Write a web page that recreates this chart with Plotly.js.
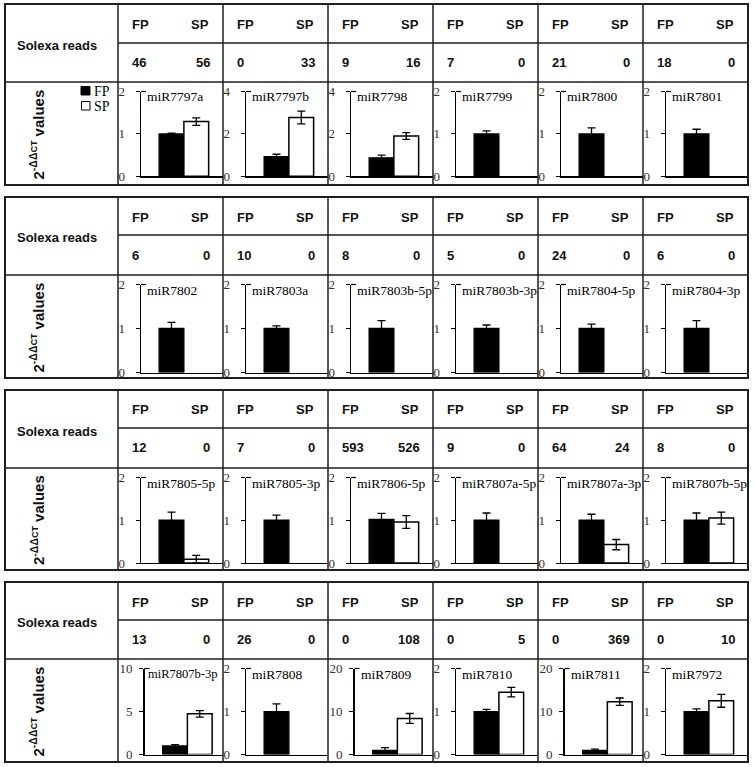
<!DOCTYPE html>
<html><head><meta charset="utf-8">
<script src="https://cdn.plot.ly/plotly-3.0.1.min.js"></script>
<style>html,body{margin:0;padding:0;background:#fff}#chart{width:754px;height:767px}</style>
</head><body><div id="chart"></div>
<script>
// ---------------- data ----------------
const groups = ["FP", "SP"];
const mirNames = [
  "miR7797a", "miR7797b", "miR7798", "miR7799", "miR7800", "miR7801",
  "miR7802", "miR7803a", "miR7803b-5p", "miR7803b-3p", "miR7804-5p", "miR7804-3p",
  "miR7805-5p", "miR7805-3p", "miR7806-5p", "miR7807a-5p", "miR7807a-3p", "miR7807b-5p",
  "miR7807b-3p", "miR7808", "miR7809", "miR7810", "miR7811", "miR7972"
];
const readsFP = [46, 0, 9, 7, 21, 18, 6, 10, 8, 5, 24, 6, 12, 7, 593, 9, 64, 8, 13, 26, 0, 0, 0, 0];
const readsSP = [56, 33, 16, 0, 0, 0, 0, 0, 0, 0, 0, 0, 0, 0, 526, 0, 24, 0, 0, 0, 108, 5, 369, 10];
const qpcrFP = [1.0, 0.93, 0.87, 1.0, 1.0, 1.0,
                1.0, 1.0, 1.0, 1.0, 1.0, 1.0,
                1.0, 1.0, 1.02, 1.0, 1.0, 1.0,
                1.0, 1.0, 1.0, 1.0, 1.0, 1.0];
const qpcrFPErr = [0.02, 0.11, 0.13, 0.07, 0.14, 0.11,
                   0.14, 0.06, 0.18, 0.08, 0.10, 0.18,
                   0.19, 0.12, 0.14, 0.17, 0.14, 0.17,
                   0.15, 0.18, 0.6, 0.05, 0.27, 0.06];
const qpcrSP = [1.29, 2.77, 1.9, null, null, null,
                null, null, null, null, null, null,
                0.09, null, 0.96, null, 0.43, 1.05,
                4.73, null, 8.4, 1.45, 12.3, 1.25];
const qpcrSPErr = [0.09, 0.3, 0.16, null, null, null,
                   null, null, null, null, null, null,
                   0.09, null, 0.15, null, 0.12, 0.14,
                   0.38, null, 1.15, 0.11, 0.85, 0.15];
const yMax = [2, 4, 4, 2, 2, 2, 2, 2, 2, 2, 2, 2, 2, 2, 2, 2, 2, 2, 10, 2, 20, 2, 20, 2];

// ---------------- geometry ----------------
const W = 754, H = 767;
const px = x => x / W;
const py = y => 1 - y / H;
const blockTop = [4, 197, 390, 582];
const blockDiv1 = [43, 235, 428, 620];
const blockDiv2 = [82, 275, 468, 659];
const blockBottom = [185, 378, 570, 762];
const zeroLine = [176.3, 372.5, 563, 754.6];
const colX = [5, 118, 223, 328, 433, 538, 643, 748];
const CELL = 105, UNIT = 24.75;

const SANS = "Liberation Sans, Arial, sans-serif";
const SERIF = "Liberation Serif, Times New Roman, serif";
const LINE = "#1e1e1e";

const traces = [];
const shapes = [];
const annotations = [];
const layout = {
  width: W, height: H,
  margin: {l: 0, r: 0, t: 0, b: 0},
  paper_bgcolor: "#fff", plot_bgcolor: "rgba(0,0,0,0)",
  showlegend: false,
  barmode: "overlay",
  font: {family: SERIF, color: "#000"},
};

function ann(x, y, text, opts) {
  annotations.push(Object.assign({
    xref: "paper", yref: "paper", x: px(x), y: py(y), text: text,
    showarrow: false, xanchor: "left", yanchor: "middle",
    font: {family: SANS, size: 13, color: "#111", weight: 700}
  }, opts || {}));
}
function hline(x0, x1, y, w) {
  shapes.push({type: "line", xref: "paper", yref: "paper", x0: px(x0), x1: px(x1), y0: py(y), y1: py(y),
    line: {color: LINE, width: w || 1.5}});
}
function vline(x, y0, y1, w) {
  shapes.push({type: "line", xref: "paper", yref: "paper", x0: px(x), x1: px(x), y0: py(y0), y1: py(y1),
    line: {color: LINE, width: w || 1.5}});
}

for (let b = 0; b < 4; b++) {
  // table grid
  shapes.push({type: "rect", xref: "paper", yref: "paper",
    x0: px(colX[0]), x1: px(colX[7]), y0: py(blockBottom[b]), y1: py(blockTop[b]),
    line: {color: LINE, width: 2}});
  hline(colX[1], colX[7], blockDiv1[b], 1.5);
  hline(colX[0], colX[7], blockDiv2[b], 1.5);
  for (let c = 1; c <= 6; c++) vline(colX[c], blockTop[b], blockBottom[b], 1.5);

  ann(57, (blockTop[b] + blockDiv2[b]) / 2 + 2, "Solexa reads", {xanchor: "center"});
  ann(37, (blockDiv2[b] + blockBottom[b]) / 2 + 1,
      "2<sup>-ΔΔ<span style='font-size:9px'>CT</span></sup> values",
      {xanchor: "center", textangle: -90, font: {family: SANS, size: 15, color: "#111", weight: 700}});
}

// legend (block 1)
shapes.push({type: "rect", xref: "paper", yref: "paper", x0: px(81), x1: px(90), y0: py(95), y1: py(86.5),
  fillcolor: "#000", line: {color: "#000", width: 1}});
shapes.push({type: "rect", xref: "paper", yref: "paper", x0: px(81.5), x1: px(90), y0: py(110), y1: py(101.5),
  fillcolor: "#fff", line: {color: "#000", width: 1}});
ann(92, 91, groups[0], {font: {family: SERIF, size: 14, color: "#000"}});
ann(92, 106, groups[1], {font: {family: SERIF, size: 14, color: "#000"}});

for (let i = 0; i < mirNames.length; i++) {
  const b = Math.floor(i / 6), c = i % 6, n = i + 1;
  const cellL = colX[c + 1];
  const two = yMax[i] >= 10;
  const off = two ? 26.5 : 23;
  const axX = cellL + off;
  const topY = blockDiv2[b] + 9.5;
  const xa = "x" + (n === 1 ? "" : n), ya = "y" + (n === 1 ? "" : n);

  layout["xaxis" + (n === 1 ? "" : n)] = {
    domain: [px(axX), px(cellL + CELL)], anchor: ya,
    type: "category", categoryorder: "array", categoryarray: groups,
    range: [-30.5 / UNIT, (CELL - off - 30.5) / UNIT],
    showline: true, linecolor: "#000", linewidth: 1.3,
    showticklabels: false, ticks: "", showgrid: false, zeroline: false, fixedrange: true
  };
  const tv = [0, yMax[i] / 2, yMax[i]];
  layout["yaxis" + (n === 1 ? "" : n)] = {
    domain: [py(zeroLine[b]), py(topY)], anchor: xa,
    range: [0, yMax[i]], tickvals: tv, ticktext: tv.map(String),
    ticks: "outside", ticklen: 4, tickwidth: 1, tickcolor: "#000",
    ticklabelstandoff: two ? 4 : 8,
    tickfont: {family: SERIF, size: 13, color: "#3b2f1c"},
    showline: true, linecolor: "#000", linewidth: 1.3,
    showgrid: false, zeroline: false, fixedrange: true
  };

  // top bracket of y axis
  shapes.push({type: "line", xref: "paper", yref: "paper", x0: px(axX), x1: px(axX + 5), y0: py(topY), y1: py(topY),
    line: {color: "#000", width: 1.2}});

  traces.push({
    type: "bar", x: [groups[0]], y: [qpcrFP[i]], width: [1], xaxis: xa, yaxis: ya, name: groups[0],
    marker: {color: "#000", line: {color: "#000", width: 1.3}},
    error_y: {type: "data", array: [qpcrFPErr[i]], visible: true, color: "#000", thickness: 1.3, width: 4}
  });
  if (qpcrSP[i] !== null) {
    traces.push({
      type: "bar", x: [groups[1]], y: [qpcrSP[i]], width: [1], xaxis: xa, yaxis: ya, name: groups[1],
      marker: {color: "#fff", line: {color: "#000", width: 1.5}},
      error_y: {type: "data", array: [qpcrSPErr[i]], visible: true, color: "#000", thickness: 1.3, width: 4}
    });
  }

  // header texts
  const yHead = (blockTop[b] + blockDiv1[b]) / 2 + 1;
  const yNum = (blockDiv1[b] + blockDiv2[b]) / 2;
  ann(cellL + 12, yHead, groups[0]);
  ann(cellL + 93, yHead, groups[1], {xanchor: "right"});
  ann(cellL + 12, yNum, String(readsFP[i]));
  ann(cellL + 94, yNum, String(readsSP[i]), {xanchor: "right"});
  // panel title
  const longName = mirNames[i].length > 10 && two;
  ann(axX + (longName ? 1.5 : 4), blockDiv2[b] + 15, mirNames[i],
      {font: {family: SERIF, size: longName ? 12.5 : 13.5, color: "#000"}});
}

layout.shapes = shapes;
layout.annotations = annotations;
Plotly.newPlot("chart", traces, layout, {staticPlot: true, displayModeBar: false});
</script>
</body></html>
